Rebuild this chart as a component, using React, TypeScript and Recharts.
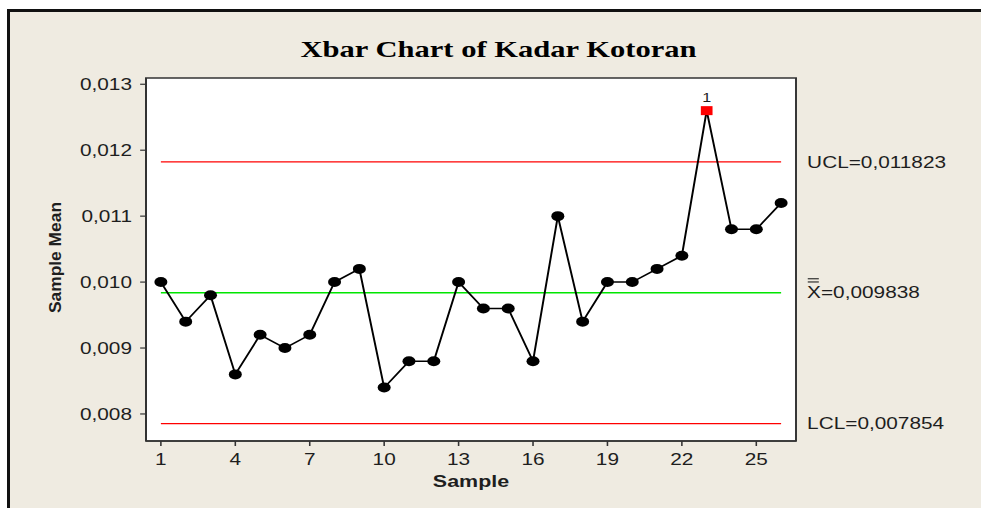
import React from 'react';
import { LineChart, Line, XAxis, YAxis, ReferenceLine, ReferenceArea } from 'recharts';

// ---- data ----
const samples = [1, 2, 3, 4, 5, 6, 7, 8, 9, 10, 11, 12, 13, 14, 15, 16, 17, 18, 19, 20, 21, 22, 23, 24, 25, 26];
const sampleMeans = [
  0.0100, 0.0094, 0.0098, 0.0086, 0.0092, 0.0090, 0.0092, 0.0100, 0.0102, 0.0084,
  0.0088, 0.0088, 0.0100, 0.0096, 0.0096, 0.0088, 0.0110, 0.0094, 0.0100, 0.0100,
  0.0102, 0.0104, 0.0126, 0.0108, 0.0108, 0.0112,
];
const UCL = 0.011823;
const CL = 0.009838;
const LCL = 0.007854;
const uclText = 'UCL=0,011823';
const clText = '=0,009838';
const lclText = 'LCL=0,007854';
const xTicks = [1, 4, 7, 10, 13, 16, 19, 22, 25];
const yTicks = [0.008, 0.009, 0.010, 0.011, 0.012, 0.013];
const flaggedSamples = [23];
const flaggedTests = ['1'];

const data = samples.map((s, i) => ({ sample: s, mean: sampleMeans[i] }));

// ---- layout ----
const S = 1.3; // horizontal stretch of the whole picture
const W = 755;
const H = 508;
const X_DOMAIN: [number, number] = [0.4, 26.6];
const Y_DOMAIN: [number, number] = [0.00759, 0.013095];
const SANS = "'Liberation Sans', Arial, sans-serif";
const SERIF = "'Liberation Serif', 'Times New Roman', serif";
const TXT = '#1e1e1e';
const BG = '#EFEBE1';

const fmt = (v: number) => v.toFixed(3).replace('.', ',');

const renderDot = (props: any) => {
  const { cx, cy, index, payload } = props;
  if (cx == null || cy == null) return <g key={`d${index}`} />;
  const k = flaggedSamples.indexOf(payload.sample);
  if (k >= 0) {
    return (
      <g key={`d${index}`}>
        <rect x={cx - 4.5} y={cy - 4.5} width={9} height={9} fill="#FF0000" />
        <text x={cx} y={cy - 8.5} textAnchor="middle" fontSize={12.5} fill={TXT} fontFamily={SANS}>
          {flaggedTests[k]}
        </text>
      </g>
    );
  }
  return <circle key={`d${index}`} cx={cx} cy={cy} r={5} fill="#000" />;
};

const makeLimitLabel = (text: string, bar: boolean) => (props: any) => {
  const vb = props.viewBox || {};
  const x = (vb.x ?? 0) + (vb.width ?? 0) + 20;
  const y = (vb.y ?? 0) + (vb.height ?? 0) / 2;
  if (!bar) {
    return (
      <text x={x} y={y} dy="0.355em" fontSize={16} fill={TXT} fontFamily={SANS}>
        {text}
      </text>
    );
  }
  return (
    <g>
      <line x1={x + 0.5} x2={x + 9} y1={y - 14} y2={y - 14} stroke={TXT} strokeWidth={1.1} />
      <line x1={x + 0.5} x2={x + 9} y1={y - 10.8} y2={y - 10.8} stroke={TXT} strokeWidth={1.1} />
      <text x={x} y={y} dy="0.355em" fontSize={16} fill={TXT} fontFamily={SANS}>
        <tspan>X</tspan>
        <tspan>{text}</tspan>
      </text>
    </g>
  );
};

const XLabel = () => (
  <text x={471 / S} y={487} textAnchor="middle" fontSize={16.5} fontWeight="bold" fill={TXT} fontFamily={SANS}>
    Sample
  </text>
);

const YLabel = () => (
  <text
    x={0}
    y={0}
    transform={`translate(${55 / S},257.5) rotate(-90)`}
    textAnchor="middle"
    dy="0.35em"
    fontSize={12.5}
    fontWeight="bold"
    fill={TXT}
    fontFamily={SANS}
    textLength={111}
    lengthAdjust="spacingAndGlyphs"
  >
    Sample Mean
  </text>
);

export default function App() {
  return (
    <div style={{ position: 'absolute', left: 0, top: 0, width: 981, height: 508, overflow: 'hidden', background: '#fff' }}>
      <div
        style={{
          position: 'absolute',
          left: 7,
          top: 9,
          width: 1000,
          height: 520,
          background: BG,
          borderTop: '3px solid #111',
          borderLeft: '3px solid #111',
        }}
      />
      <div
        style={{
          position: 'absolute',
          left: 0,
          top: 0,
          width: W,
          height: H,
          transform: `scaleX(${S})`,
          transformOrigin: '0 0',
        }}
      >
        <div
          style={{
            position: 'absolute',
            left: 498.5 / S - 200,
            width: 400,
            top: 37.6,
            textAlign: 'center',
            fontFamily: SERIF,
            fontWeight: 'bold',
            fontSize: 23.5,
            lineHeight: 1,
            color: '#000',
            whiteSpace: 'nowrap',
          }}
        >
          Xbar Chart of Kadar Kotoran
        </div>
        <LineChart
          width={W}
          height={H}
          data={data}
          margin={{ top: 78, right: W - 796 / S, bottom: 27, left: 146 / S - 60 }}
        >
          <ReferenceArea
            x1={X_DOMAIN[0]}
            x2={X_DOMAIN[1]}
            y1={Y_DOMAIN[0]}
            y2={Y_DOMAIN[1]}
            fill="#fff"
            fillOpacity={1}
            stroke="#333"
            strokeWidth={1.5}
          />
          <XAxis
            type="number"
            dataKey="sample"
            domain={X_DOMAIN}
            ticks={xTicks}
            height={40}
            tickSize={5}
            tickMargin={8}
            axisLine={{ stroke: '#333', strokeWidth: 1.5 }}
            tickLine={{ stroke: '#333', strokeWidth: 1.2 }}
            tick={{ fontSize: 16, fill: TXT, fontFamily: SANS }}
            label={XLabel}
            interval={0}
          />
          <YAxis
            type="number"
            domain={Y_DOMAIN}
            ticks={yTicks}
            width={60}
            tickSize={4.5}
            tickMargin={6.3}
            tickFormatter={fmt}
            axisLine={{ stroke: '#333', strokeWidth: 1.5 }}
            tickLine={{ stroke: '#333', strokeWidth: 1.2 }}
            tick={{ fontSize: 16, fill: TXT, fontFamily: SANS }}
            label={YLabel}
            interval={0}
          />
          <ReferenceLine
            segment={[{ x: samples[0], y: UCL }, { x: samples[samples.length - 1], y: UCL }]}
            stroke="#FF0000"
            strokeWidth={1.3}
            label={makeLimitLabel(uclText, false)}
          />
          <ReferenceLine
            segment={[{ x: samples[0], y: CL }, { x: samples[samples.length - 1], y: CL }]}
            stroke="#00E600"
            strokeWidth={1.6}
            label={makeLimitLabel(clText, true)}
          />
          <ReferenceLine
            segment={[{ x: samples[0], y: LCL }, { x: samples[samples.length - 1], y: LCL }]}
            stroke="#FF0000"
            strokeWidth={1.3}
            label={makeLimitLabel(lclText, false)}
          />
          <Line
            type="linear"
            dataKey="mean"
            stroke="#000"
            strokeWidth={1.5}
            dot={renderDot}
            activeDot={false}
            isAnimationActive={false}
          />
        </LineChart>
      </div>
    </div>
  );
}
